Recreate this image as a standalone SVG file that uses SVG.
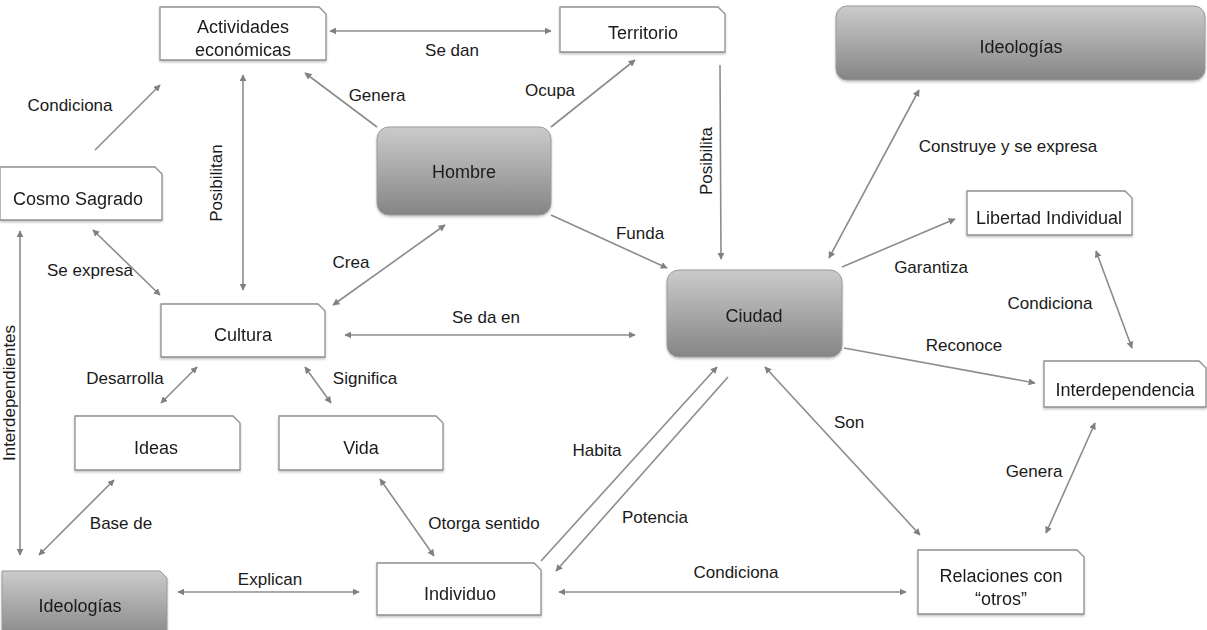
<svg xmlns="http://www.w3.org/2000/svg" width="1207" height="630" viewBox="0 0 1207 630">
<style>
.n{fill:#fff;stroke:#8f8f8f;stroke-width:1.3}
.g{fill:url(#gg);stroke:#9a9a9a;stroke-width:1}
.t{font-family:"Liberation Sans",Arial,sans-serif;font-size:18px;fill:#1a1a1a;text-anchor:middle}
.l{font-family:"Liberation Sans",Arial,sans-serif;font-size:17px;fill:#1a1a1a;text-anchor:middle}
.c{fill:none;stroke:#8c8c8c;stroke-width:1.6}
.b{marker-start:url(#ah);marker-end:url(#ah)}
.e{marker-end:url(#ah)}
</style>
<defs>
<linearGradient id="gg" x1="0" y1="0" x2="0" y2="1">
<stop offset="0" stop-color="#cbcbcb"/>
<stop offset="1" stop-color="#858585"/>
</linearGradient>
<marker id="ah" viewBox="0 0 10 10" refX="9" refY="5" markerWidth="7" markerHeight="7" markerUnits="userSpaceOnUse" orient="auto-start-reverse">
<path d="M0,0 L10,5 L0,10 z" fill="#808080"/>
</marker>
<filter id="sh" x="-5%" y="-10%" width="110%" height="130%">
<feDropShadow dx="0" dy="1.5" stdDeviation="1.2" flood-color="#000" flood-opacity="0.25"/>
</filter>
</defs>
<rect width="1207" height="630" fill="#fff"/>

<g id="connectors">
<line class="c b" x1="330" y1="31" x2="551" y2="31"/>
<line class="c e" x1="95" y1="150" x2="160" y2="85"/>
<line class="c b" x1="243" y1="75" x2="243" y2="290"/>
<line class="c e" x1="377" y1="127" x2="305" y2="73"/>
<line class="c e" x1="551" y1="127" x2="635" y2="60"/>
<line class="c e" x1="720" y1="65" x2="721" y2="259"/>
<line class="c e" x1="551" y1="215" x2="667" y2="268"/>
<line class="c b" x1="445" y1="225" x2="333" y2="305"/>
<line class="c b" x1="93" y1="230" x2="160" y2="295"/>
<line class="c b" x1="20" y1="231" x2="20" y2="555"/>
<line class="c b" x1="345" y1="335" x2="635" y2="335"/>
<line class="c b" x1="197" y1="367" x2="161" y2="403"/>
<line class="c b" x1="305" y1="367" x2="331" y2="403"/>
<line class="c b" x1="114" y1="480" x2="39" y2="555"/>
<line class="c b" x1="380" y1="479" x2="434" y2="556"/>
<line class="c b" x1="178" y1="592" x2="359" y2="592"/>
<line class="c e" x1="541" y1="561" x2="717" y2="367"/>
<line class="c e" x1="728" y1="377" x2="556" y2="571"/>
<line class="c b" x1="559" y1="592" x2="906" y2="592"/>
<line class="c b" x1="765" y1="367" x2="920" y2="535"/>
<line class="c b" x1="1095" y1="423" x2="1046" y2="533"/>
<line class="c e" x1="844" y1="348" x2="1035" y2="383"/>
<line class="c b" x1="1096" y1="251" x2="1132" y2="348"/>
<line class="c e" x1="842" y1="267" x2="955" y2="219"/>
<line class="c b" x1="829" y1="258" x2="919" y2="90"/>
</g>

<g id="labels">
<text class="l" x="452" y="56">Se dan</text>
<text class="l" x="70" y="111">Condiciona</text>
<text class="l" transform="translate(222,183) rotate(-90)">Posibilitan</text>
<text class="l" x="377" y="101">Genera</text>
<text class="l" x="550" y="96">Ocupa</text>
<text class="l" transform="translate(712,161) rotate(-90)">Posibilita</text>
<text class="l" x="640" y="239">Funda</text>
<text class="l" x="351" y="268">Crea</text>
<text class="l" x="90" y="276">Se expresa</text>
<text class="l" transform="translate(15,393) rotate(-90)">Interdependientes</text>
<text class="l" x="486" y="323">Se da en</text>
<text class="l" x="125" y="384">Desarrolla</text>
<text class="l" x="365" y="384">Significa</text>
<text class="l" x="121" y="529">Base de</text>
<text class="l" x="484" y="529">Otorga sentido</text>
<text class="l" x="270" y="585">Explican</text>
<text class="l" x="597" y="456">Habita</text>
<text class="l" x="655" y="523">Potencia</text>
<text class="l" x="736" y="578">Condiciona</text>
<text class="l" x="849" y="428">Son</text>
<text class="l" x="1034" y="477">Genera</text>
<text class="l" x="964" y="351">Reconoce</text>
<text class="l" x="1050" y="309">Condiciona</text>
<text class="l" x="931" y="273">Garantiza</text>
<text class="l" x="1008" y="152">Construye y se expresa</text>
</g>

<g id="actividades" filter="url(#sh)">
<path class="n" d="M160,7 H319 L326,14 V60 H160 Z"/>
<text class="t" x="243" y="33">Actividades</text>
<text class="t" x="243" y="56">económicas</text>
</g>
<g id="territorio" filter="url(#sh)">
<path class="n" d="M560,7 H718 L725,14 V52 H560 Z"/>
<text class="t" x="643" y="39">Territorio</text>
</g>
<g id="ideologias-top" filter="url(#sh)">
<rect class="g" x="836" y="6" width="369" height="74" rx="11"/>
<text class="t" x="1021" y="53">Ideologías</text>
</g>
<g id="hombre" filter="url(#sh)">
<rect class="g" x="377" y="127" width="174" height="88" rx="12"/>
<text class="t" x="464" y="178">Hombre</text>
</g>
<g id="cosmo" filter="url(#sh)">
<path class="n" d="M0,167 H155 L162,174 V220 H0 Z"/>
<text class="t" x="78" y="205">Cosmo Sagrado</text>
</g>
<g id="libertad" filter="url(#sh)">
<path class="n" d="M967,191 H1125 L1132,198 V235 H967 Z"/>
<text class="t" x="1049" y="224">Libertad Individual</text>
</g>
<g id="cultura" filter="url(#sh)">
<path class="n" d="M161,304 H318 L325,311 V357 H161 Z"/>
<text class="t" x="243" y="341">Cultura</text>
</g>
<g id="ciudad" filter="url(#sh)">
<rect class="g" x="667" y="270" width="175" height="87" rx="12"/>
<text class="t" x="754" y="322">Ciudad</text>
</g>
<g id="interdependencia" filter="url(#sh)">
<path class="n" d="M1044,361 H1199 L1206,368 V407 H1044 Z"/>
<text class="t" x="1125" y="396">Interdependencia</text>
</g>
<g id="ideas" filter="url(#sh)">
<path class="n" d="M75,416 H233 L240,423 V470 H75 Z"/>
<text class="t" x="156" y="454">Ideas</text>
</g>
<g id="vida" filter="url(#sh)">
<path class="n" d="M279,416 H436 L443,423 V470 H279 Z"/>
<text class="t" x="361" y="454">Vida</text>
</g>
<g id="ideologias-bottom" filter="url(#sh)">
<path class="g" d="M2,571 H160 L167,578 V640 H2 Z"/>
<text class="t" x="80" y="612">Ideologías</text>
</g>
<g id="individuo" filter="url(#sh)">
<path class="n" d="M377,563 H534 L541,570 V615 H377 Z"/>
<text class="t" x="460" y="600">Individuo</text>
</g>
<g id="relaciones" filter="url(#sh)">
<path class="n" d="M918,550 H1077 L1084,557 V614 H918 Z"/>
<text class="t" x="1001" y="582">Relaciones con</text>
<text class="t" x="1001" y="605">“otros”</text>
</g>
</svg>
